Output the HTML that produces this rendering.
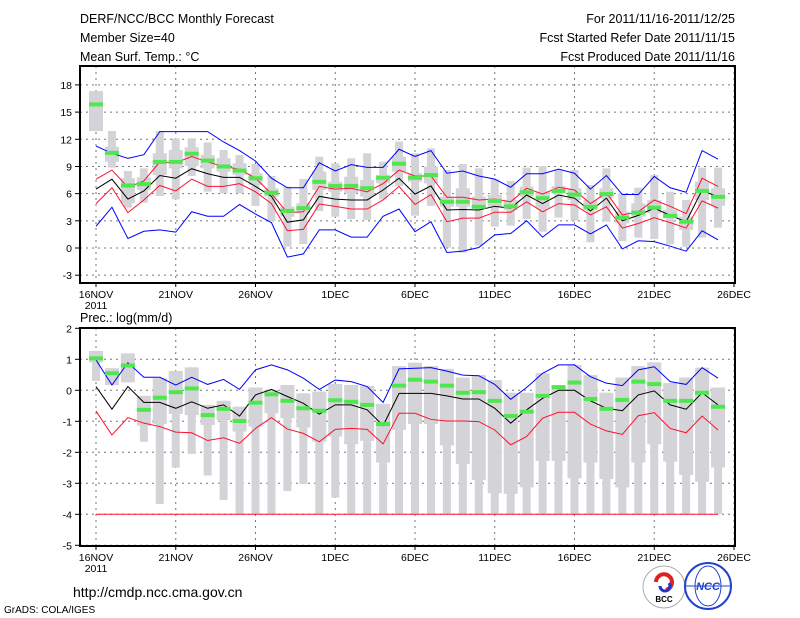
<!DOCTYPE html>
<html><head><meta charset="utf-8"><style>
body{margin:0;background:#fff}
svg{display:block;font-family:"Liberation Sans",sans-serif}
</style></head><body>
<svg id="c" width="800" height="618" viewBox="0 0 800 618">
<g font-size="12.5" fill="#000">
<text x="80" y="23">DERF/NCC/BCC Monthly Forecast</text>
<text x="80" y="42">Member Size=40</text>
<text x="80" y="61">Mean Surf. Temp.: °C</text>
<text x="735" y="23" text-anchor="end">For 2011/11/16-2011/12/25</text>
<text x="735" y="42" text-anchor="end">Fcst Started Refer Date 2011/11/15</text>
<text x="735" y="61" text-anchor="end">Fcst Produced Date 2011/11/16</text>
<text x="80" y="322">Prec.: log(mm/d)</text>
<text x="73" y="597" font-size="14">http://cmdp.ncc.cma.gov.cn</text>
<text x="4" y="613" font-size="10">GrADS: COLA/IGES</text>
</g>
<g>
<circle cx="664" cy="587" r="21" fill="#fff" stroke="#aaa"/>
<path d="M656 582 a8 8 0 1 1 10 8" stroke="#d22" stroke-width="4" fill="none"/>
<path d="M660 586 a5 5 0 1 0 9 -3" stroke="#23c" stroke-width="3" fill="none"/>
<text x="664" y="602" font-size="8" text-anchor="middle" font-weight="bold">BCC</text>
</g>
<g>
<circle cx="708" cy="586" r="23" fill="#fff" stroke="#24c" stroke-width="2"/>
<ellipse cx="708" cy="586" rx="13" ry="20" fill="none" stroke="#24c"/>
<line x1="686" y1="586" x2="730" y2="586" stroke="#24c"/>
<text x="708" y="590" font-size="11" text-anchor="middle" fill="#24c" font-weight="bold" font-style="italic">NCC</text>
</g>
</svg>
<script>
const days=["16NOV","21NOV","26NOV","1DEC","6DEC","11DEC","16DEC","21DEC","26DEC"];
const tTicks=[18,15,12,9,6,3,0,-3];
const pTicks=[2,1,0,-1,-2,-3,-4,-5];
// Temperature
const tMean=[6.5,7.6,5.4,6.3,8.0,7.7,8.75,8.2,7.8,7.8,6.8,5.7,2.85,3.1,5.7,5.4,5.3,5.3,6.4,7.7,5.95,6.85,4.2,4.25,4.2,4.6,4.4,5.85,4.9,5.85,5.5,4.1,5.5,3.0,3.6,4.4,3.6,2.9,6.4,5.6];
const tRedHi=[7.6,8.6,6.7,7.4,9.5,9.4,10.1,9.5,9.0,8.7,7.7,6.0,3.9,4.0,6.8,6.5,6.6,6.2,7.1,8.6,7.95,7.95,5.6,5.6,5.3,5.4,5.1,6.6,5.95,6.7,6.4,4.9,6.1,3.65,4.0,5.3,4.6,3.8,7.7,6.8];
const tRedLo=[4.9,6.65,3.9,5.3,6.9,6.3,7.6,6.8,6.8,7.1,6.2,4.9,1.9,2.05,4.85,4.6,4.3,4.3,5.3,6.8,4.8,5.9,2.9,3.3,3.3,3.95,3.95,5.1,4.0,4.9,4.75,3.65,4.55,2.2,2.7,3.35,2.8,2.2,5.2,4.4];
const tBlueHi=[11.25,10.45,9.9,10.3,12.85,12.85,12.85,12.85,11.7,10.75,9.6,7.7,6.65,6.65,9.4,8.5,9.2,8.9,8.9,10.9,10.1,10.75,8.25,8.5,7.95,7.6,6.7,8.2,8.2,8.7,8.25,6.5,8.0,5.9,5.9,7.9,6.65,6.15,10.75,9.8];
const tBlueLo=[2.4,4.5,1.05,1.85,2.0,1.75,4.0,3.5,3.5,4.8,3.75,2.8,-1.0,-0.65,2.0,2.0,1.2,1.2,3.5,4.3,1.8,2.9,-0.5,-0.35,0.05,1.45,1.6,3.0,1.2,2.55,2.55,1.55,2.55,-0.1,0.8,0.7,0.2,-0.35,1.9,0.9];
const tObs=[15.85,10.5,6.9,7.05,9.5,9.5,10.4,9.65,9.0,8.55,7.7,6.1,4.1,4.4,7.3,6.85,6.85,6.6,7.75,9.3,7.75,8.05,5.1,5.1,4.55,5.2,4.6,6.15,5.5,6.3,5.9,4.55,5.95,3.35,3.9,4.45,3.55,2.9,6.3,5.65];
const tMax=[17.33,12.91,8.5,8.79,12.91,12.1,12.1,11.66,10.82,10.26,9.27,7.95,6.77,7.62,10.08,9.35,9.9,10.45,9.53,11.74,10.45,11.0,8.61,9.27,8.79,7.58,7.4,8.87,9.05,8.61,8.61,6.95,8.79,6.03,6.66,8.06,6.22,5.3,8.87,8.87];
const tMin=[12.91,8.87,4.45,5.0,5.74,5.37,7.95,6.22,6.03,6.03,4.64,2.98,0.15,0.44,4.08,3.46,3.2,3.09,5.37,6.84,3.57,4.64,0.04,-0.51,0.26,2.36,2.47,3.2,1.8,3.35,3.02,0.63,2.91,0.77,1.14,0.99,0.4,0.15,1.14,2.24];
const tQ3=[17.33,11.18,7.69,7.8,10.45,10.82,11.11,10.26,9.9,9.35,8.24,6.59,4.56,4.93,8.43,7.32,7.87,7.5,8.06,10.08,8.24,8.98,5.67,6.59,5.67,5.85,5.3,6.77,6.22,6.84,6.59,5.3,6.59,4.01,4.93,5.3,4.19,3.46,7.32,6.59];
const tQ1=[12.91,9.53,4.93,6.4,8.06,8.79,9.05,8.79,8.43,8.06,6.95,5.67,3.46,3.83,6.4,6.22,6.03,5.67,7.14,8.43,7.32,7.14,4.56,4.56,4.38,4.56,4.19,5.67,4.38,6.03,5.3,4.19,5.48,2.72,3.46,3.83,3.28,1.99,5.3,4.67];
// Precipitation
const pMean=[0.12,-0.61,0.12,-0.39,-0.39,-0.58,-0.37,-0.58,-0.47,-0.83,-0.15,0.03,-0.2,-0.42,-0.77,-0.47,-0.47,-0.63,-1.14,-0.1,-0.1,-0.1,-0.18,-0.28,-0.28,-0.58,-1.06,-0.63,-0.26,0,0,-0.34,-0.58,-0.66,-0.15,-0.02,-0.47,-0.61,-0.08,-0.47];
const pBlueHi=[0.98,0.17,0.89,0.42,0.42,0.17,0.42,0.19,0.35,0.03,0.66,0.82,0.66,0.39,0.03,0.33,0.28,0.12,-0.39,0.69,0.71,0.73,0.62,0.49,0.47,0.19,-0.29,0.09,0.55,0.82,0.82,0.44,0.23,0.15,0.66,0.76,0.28,0.19,0.73,0.39];
const pRedLo=[-0.67,-1.44,-0.88,-1.06,-1.17,-1.35,-1.37,-1.62,-1.53,-1.71,-1.23,-0.88,-1.25,-1.39,-1.66,-1.26,-1.23,-1.26,-1.73,-0.74,-0.74,-0.94,-0.99,-0.99,-1.01,-1.28,-1.76,-1.49,-0.9,-0.71,-0.71,-1.09,-1.31,-1.42,-0.82,-0.72,-1.23,-1.37,-0.83,-1.28];
const pFloor=[-4,-4,-4,-4,-4,-4,-4,-4,-4,-4,-4,-4,-4,-4,-4,-4,-4,-4,-4,-4,-4,-4,-4,-4,-4,-4,-4,-4,-4,-4,-4,-4,-4,-4,-4,-4,-4,-4,-4,-4];
const pObs=[1.03,0.55,0.8,-0.63,-0.24,-0.06,0.06,-0.8,-0.6,-0.99,-0.4,-0.13,-0.34,-0.58,-0.66,-0.32,-0.37,-0.47,-1.09,0.15,0.34,0.28,0.15,-0.08,-0.06,-0.34,-0.83,-0.69,-0.18,0.1,0.25,-0.28,-0.6,-0.31,0.28,0.2,-0.34,-0.34,-0.08,-0.53];
const pMax=[1.27,0.71,1.19,-0.18,0.39,0.62,0.74,-0.47,-0.34,-0.53,0.09,0.01,0.17,-0.1,-0.04,0.2,0.17,0.14,-0.44,0.78,0.89,0.78,0.69,0.41,0.49,0.33,-0.08,-0.08,0.55,0.17,0.82,0.49,-0.08,0.41,0.78,0.9,0.23,0.41,0.73,0.09];
const pMin=[0.3,0.17,0.26,-1.66,-3.67,-2.49,-2.05,-2.75,-3.54,-3.99,-3.99,-3.99,-3.25,-3.02,-3.99,-3.46,-3.99,-3.99,-3.99,-3.99,-3.99,-3.99,-3.99,-3.99,-3.99,-3.99,-3.99,-3.99,-3.99,-3.99,-3.99,-3.99,-3.99,-3.99,-3.99,-3.99,-3.99,-3.99,-3.99,-3.99];
const pQ1=[0.9,0.17,0.26,-1.14,-1.09,-0.76,-0.8,-1.12,-0.96,-1.33,-1.17,-0.74,-0.9,-1.2,-1.66,-1.49,-1.74,-1.63,-2.33,-1.28,-1.09,-1.09,-1.78,-2.38,-2.89,-3.32,-3.34,-3.13,-2.28,-2.28,-2.84,-2.33,-2.86,-3.13,-2.33,-1.74,-2.3,-2.73,-2.95,-2.49];

const svg=document.getElementById('c');
const NS='http://www.w3.org/2000/svg';
function mk(tag,attrs,parent){const e=document.createElementNS(NS,tag);for(const k in attrs)e.setAttribute(k,attrs[k]);(parent||svg).appendChild(e);return e;}
const X0=96,DX=15.95,L=80,R=735;
const xs=i=>X0+DX*i;

function panel(name,top,bot,yOf,ticks,series){
  const g=mk('g',{});
  
  
  ticks.forEach(t=>{const y=yOf(t);
    const gl=mk('line',{x1:L,x2:R,y1:y,y2:y,stroke:'#777','stroke-dasharray':'2,4'},g);
    
    
    const tk=mk('line',{x1:L-5,x2:L,y1:y,y2:y,stroke:'#000'},g);
    
    
    const tx=mk('text',{x:L-8,y:y+4,'text-anchor':'end','font-size':'10.5'},g);
    tx.textContent=t;
    
    
  });
  days.forEach((d,k)=>{const x=xs(k*5);
    const vl=mk('line',{x1:x,x2:x,y1:top,y2:bot,stroke:'#777','stroke-dasharray':'2,4'},g);
    
    
    const tk=mk('line',{x1:x,x2:x,y1:bot,y2:bot+4,stroke:'#000'},g);
    
    
    const tx=mk('text',{x:x,y:bot+15,'text-anchor':'middle','font-size':'10.5'},g);
    tx.textContent=d;
    
    
  });
  const yr=mk('text',{x:xs(0),y:bot+26,'text-anchor':'middle','font-size':'10.5'},g);
  yr.textContent='2011';
  
  
  series.max.forEach((v,i)=>{
    const x=xs(i);
    const b=mk('rect',{x:x-4,y:yOf(v),width:8,height:yOf(series.min[i])-yOf(v),fill:'#d3d3d8'},g);
    
    
    const b2=mk('rect',{x:x-7,y:yOf(series.q3[i]),width:14,height:Math.max(0,yOf(series.q1[i])-yOf(series.q3[i])),fill:'#d3d3d8'},g);
    
    
  });
  series.lines.forEach(([arr,col,nm])=>{
    const p=mk('polyline',{points:arr.map((v,i)=>xs(i)+','+yOf(v)).join(' '),fill:'none',stroke:col,'stroke-width':1},g);
    
    
  });
  series.obs.forEach((v,i)=>{
    const m=mk('rect',{x:xs(i)-7,y:yOf(v)-2,width:14,height:4,fill:'#4ee84e'},g);
    
    
  });
  const f=mk('rect',{x:L,y:top,width:R-L,height:bot-top,fill:'none',stroke:'#000','stroke-width':2},g);
  
  
}
const yT=v=>248-9.06*v;
panel('temperature-panel',66,283,yT,tTicks,{max:tMax,min:tMin,q3:tQ3,q1:tQ1,obs:tObs,
  lines:[[tBlueHi,'#0000ff','blue-upper-line'],[tBlueLo,'#0000ff','blue-lower-line'],[tRedHi,'#ff1030','red-upper-line'],[tRedLo,'#ff1030','red-lower-line'],[tMean,'#000','ensemble-mean-line']]});
const yP=v=>390.3-31*v;
panel('precipitation-panel',328,546,yP,pTicks,{max:pMax,min:pMin,q3:pMax,q1:pQ1,obs:pObs,
  lines:[[pBlueHi,'#0000ff','blue-upper-line'],[pFloor,'#ff1030','floor-line'],[pRedLo,'#ff1030','red-lower-line'],[pMean,'#000','ensemble-mean-line']]});
</script>
</body></html>
